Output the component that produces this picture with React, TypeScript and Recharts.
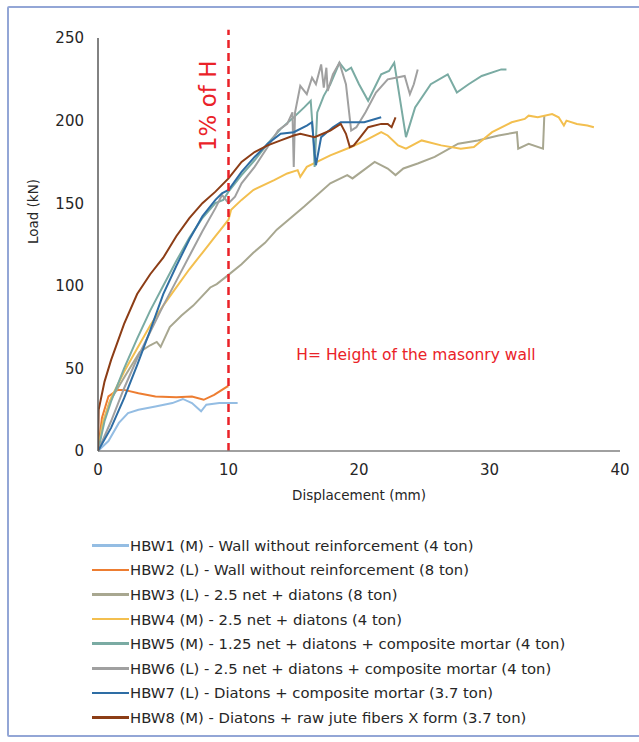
import React from "react";
import {
  LineChart,
  Line,
  XAxis,
  YAxis,
  ReferenceLine,
  ReferenceDot,
  Label,
} from "recharts";

// ---- data: [displacement (mm), load (kN)] ----
const HBW1: number[][] = [
  [0, 0], [0.8, 6], [1.6, 17], [2.3, 23], [3.1, 25], [4.4, 27], [5.7, 29],
  [6.5, 31.5], [7.2, 29], [7.9, 24], [8.3, 28], [9.3, 29], [10.7, 29],
];
const HBW2: number[][] = [
  [0, 0], [0.3, 20], [0.8, 33], [1.5, 37], [2, 37], [3.1, 35], [4.4, 33],
  [6, 32.5], [7.2, 33], [8.1, 31], [8.9, 34], [9.9, 39], [10, 39],
];
const HBW3: number[][] = [
  [0, 0], [0.3, 15], [0.9, 30], [2.2, 47], [3.2, 60], [4, 64], [4.5, 66],
  [4.8, 63], [5.5, 75], [6.4, 82], [7.3, 88], [8.6, 99], [9.1, 101],
  [9.9, 106], [11, 113], [11.9, 120], [12.8, 126], [13.7, 134], [15.8, 148],
  [17.8, 162], [19.1, 167], [19.5, 165], [21.2, 175], [22.2, 171], [22.8, 167],
  [23.4, 171], [24.5, 174], [25.8, 178], [27.6, 186], [29.1, 188], [30.7, 191],
  [32.1, 193], [32.2, 183], [33, 186], [34.1, 183], [34.2, 203],
];
const HBW4: number[][] = [
  [0, 0], [0.4, 18], [1, 32], [2, 48], [3, 62], [4, 76], [5, 88], [6, 99],
  [7, 110], [8, 120], [9, 130], [9.4, 134], [10, 140], [10.2, 146], [11, 152],
  [11.9, 158], [13.5, 164], [14.5, 168], [15.3, 170], [15.5, 166], [16, 172],
  [17.8, 179], [19.4, 184], [20.5, 188], [21.7, 193], [22.2, 191], [23, 185],
  [23.6, 183], [24.8, 188], [26.3, 185], [27.8, 183], [28.8, 184], [30.2, 193],
  [31.7, 199], [32.7, 201], [33, 203], [33.7, 202], [34.8, 204], [35.3, 202],
  [35.7, 197], [35.9, 200], [36.7, 198], [37.5, 197], [38, 196],
];
const HBW5: number[][] = [
  [0, 0], [0.5, 18], [1, 30], [2, 50], [3, 68], [4, 85], [5, 100], [6, 115],
  [7, 129], [8, 141], [9, 150], [9.6, 152], [10, 157], [11, 167], [12, 176],
  [13, 186], [14, 195], [15, 202], [15.8, 208], [16.3, 212], [16.5, 190],
  [16.6, 172], [16.8, 205], [17.3, 215], [17.8, 222], [18.5, 235], [19, 230],
  [19.4, 232], [20, 222], [20.7, 212], [21.2, 220], [21.7, 228], [22.3, 230],
  [22.7, 235], [23.1, 215], [23.6, 190], [24.3, 208], [25.5, 222], [26.8, 228],
  [27.5, 217], [28.4, 222], [29.4, 227], [30.9, 231], [31.3, 231],
];
const HBW6: number[][] = [
  [0, 0], [1, 18], [2, 38], [3, 56], [4, 72], [5, 88], [6, 103], [7, 118],
  [8, 133], [9, 147], [9.5, 155], [10, 150], [10.5, 154], [11, 162], [12, 172],
  [13, 184], [13.8, 194], [14.5, 198], [14.9, 205], [15, 172], [15.1, 205],
  [15.5, 221], [16, 216], [16.4, 226], [16.7, 222], [17.1, 234], [17.3, 220],
  [17.5, 232], [17.6, 218], [18, 228], [18.5, 235], [19, 222], [19.4, 194],
  [19.8, 196], [20.5, 205], [21.3, 217], [22.2, 225], [23.5, 227], [23.9, 216],
  [24.2, 222], [24.5, 231],
];
const HBW7: number[][] = [
  [0, 0], [1, 14], [2, 32], [3, 52], [4, 73], [5, 95], [6, 112], [7, 128],
  [8, 142], [9, 152], [9.5, 156], [10, 158], [11, 169], [12, 178], [13, 186],
  [14, 192], [15, 193], [16, 197], [16.4, 199], [16.6, 180], [16.7, 173],
  [17.1, 190], [18, 196], [18.6, 199], [20.4, 199], [21.7, 202],
];
const HBW8: number[][] = [
  [0, 0], [0.05, 25], [0.5, 42], [1, 55], [2, 77], [3, 95], [4, 107],
  [5, 117], [6, 130], [7, 141], [8, 150], [9, 157], [10, 165], [11, 175],
  [12, 181], [13, 185], [14, 188], [15, 191], [15.5, 192], [16.6, 190],
  [17.8, 194], [18.6, 198], [19, 192], [19.3, 184], [19.6, 185], [20, 189],
  [20.7, 196], [21.7, 198], [22.2, 198], [22.5, 196], [22.8, 202],
];

const SERIES_NAMES = [
  "HBW1 (M) - Wall without reinforcement (4 ton)",
  "HBW2 (L) - Wall without reinforcement (8 ton)",
  "HBW3 (L) - 2.5 net + diatons (8 ton)",
  "HBW4 (M) - 2.5 net + diatons (4 ton)",
  "HBW5 (M) - 1.25 net + diatons + composite mortar (4 ton)",
  "HBW6 (L) - 2.5 net + diatons + composite mortar (4 ton)",
  "HBW7 (L) - Diatons + composite mortar (3.7 ton)",
  "HBW8 (M) - Diatons + raw jute fibers X form (3.7 ton)",
];
const SERIES_COLORS = [
  "#94bde3", "#ed7d31", "#a8a790", "#f3bf4f",
  "#7aaba3", "#a0a0a0", "#2e6da4", "#8c3d16",
];
const SERIES_DATA = [HBW1, HBW2, HBW3, HBW4, HBW5, HBW6, HBW7, HBW8];

const X_TICKS = [0, 10, 20, 30, 40];
const Y_TICKS = [0, 50, 100, 150, 200, 250];
const LIMIT_X = 10;

const FONT = "'DejaVu Sans', sans-serif";
const RED = "#ea2228";

const series = SERIES_NAMES.map((name, i) => ({
  name,
  color: SERIES_COLORS[i],
  data: SERIES_DATA[i].map(([x, y]) => ({ x, y })),
}));

export default function App() {
  return (
    <div
      style={{
        position: "absolute",
        left: 0,
        top: 0,
        width: 639,
        height: 742,
        background: "#ffffff",
        overflow: "hidden",
        fontFamily: FONT,
      }}
    >
      <div
        style={{
          position: "absolute",
          left: 7,
          top: 6,
          width: 660,
          height: 731,
          border: "2px solid #93a6d6",
          borderRadius: 2,
          boxSizing: "border-box",
        }}
      />
      <div style={{ position: "absolute", left: 0, top: 0 }}>
        <LineChart
          width={639}
          height={742}
          margin={{ top: 38, right: 19, bottom: 231, left: 0 }}
        >
          <XAxis
            type="number"
            dataKey="x"
            domain={[0, 40]}
            ticks={X_TICKS}
            allowDataOverflow
            tickLine={false}
            tickSize={0}
            tickMargin={13}
            axisLine={{ stroke: "#808080", strokeWidth: 1.5 }}
            tick={{ fill: "#262626", fontSize: 15, fontFamily: FONT }}
            height={60}
          >
            <Label
              value="Displacement (mm)"
              position="insideTop"
              offset={39}
              style={{ fill: "#262626", fontSize: 13.5, fontFamily: FONT }}
            />
          </XAxis>
          <YAxis
            type="number"
            domain={[0, 250]}
            ticks={Y_TICKS}
            tickLine={false}
            tickSize={0}
            tickMargin={14}
            width={98}
            axisLine={{ stroke: "#595959", strokeWidth: 1.5 }}
            tick={{ fill: "#262626", fontSize: 15, fontFamily: FONT }}
          >
            <Label
              content={(props: any) => {
                const vb = props.viewBox || {};
                const lx = vb.x + 38;
                const ly = vb.y + vb.height / 2 - 33;
                return (
                  <text
                    x={lx}
                    y={ly}
                    transform={`rotate(-90 ${lx} ${ly})`}
                    textAnchor="middle"
                    fill="#262626"
                    fontSize={13.5}
                    fontFamily={FONT}
                  >
                    Load (kN)
                  </text>
                );
              }}
            />
          </YAxis>
          {series.map((s) => (
            <Line
              key={s.name}
              data={s.data}
              dataKey="y"
              name={s.name}
              type="linear"
              stroke={s.color}
              strokeWidth={2}
              dot={false}
              activeDot={false}
              isAnimationActive={false}
            />
          ))}
          <ReferenceLine
            segment={[
              { x: LIMIT_X, y: 0 },
              { x: LIMIT_X, y: 255 },
            ]}
            ifOverflow="visible"
            stroke={RED}
            strokeWidth={2.5}
            strokeDasharray="8 5"
          />
          <ReferenceDot
            x={LIMIT_X}
            y={209}
            r={0}
            ifOverflow="visible"
            label={(props: any) => {
              const vb = props.viewBox || {};
              const cx = vb.x + (vb.width || 0) / 2;
              const cy = vb.y + (vb.height || 0) / 2;
              return (
                <text
                  x={cx - 12}
                  y={cy}
                  transform={`rotate(-90 ${cx - 12} ${cy})`}
                  textAnchor="middle"
                  fill={RED}
                  fontSize={23}
                  fontFamily={FONT}
                >
                  1% of H
                </text>
              );
            }}
          />
          <ReferenceDot
            x={15.2}
            y={58}
            r={0}
            ifOverflow="visible"
            label={(props: any) => {
              const vb = props.viewBox || {};
              const cx = vb.x + (vb.width || 0) / 2;
              const cy = vb.y + (vb.height || 0) / 2;
              return (
                <text
                  x={cx}
                  y={cy}
                  textAnchor="start"
                  dominantBaseline="middle"
                  fill={RED}
                  fontSize={15.5}
                  fontFamily={FONT}
                >
                  H= Height of the masonry wall
                </text>
              );
            }}
          />
        </LineChart>
      </div>
      <div style={{ position: "absolute", left: 92, top: 533 }}>
        {series.map((s) => (
          <div
            key={s.name}
            style={{
              display: "flex",
              alignItems: "center",
              height: 24.6,
              whiteSpace: "nowrap",
            }}
          >
            <div
              style={{
                width: 37,
                height: 2.5,
                background: s.color,
                marginRight: 1,
              }}
            />
            <span style={{ fontSize: 14.8, color: "#262626" }}>{s.name}</span>
          </div>
        ))}
      </div>
    </div>
  );
}
